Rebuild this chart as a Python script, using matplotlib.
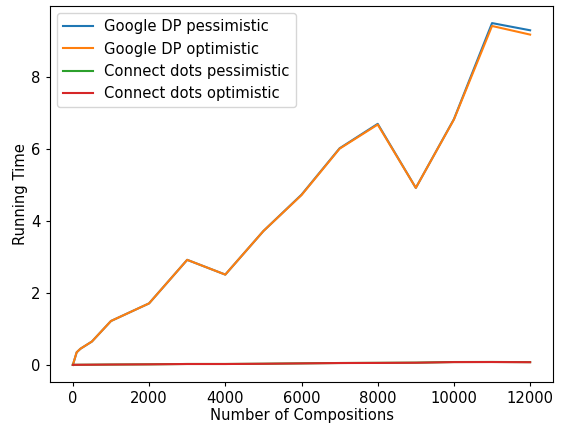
import matplotlib
matplotlib.use("Agg")
import matplotlib.pyplot as plt

compositions = [0, 100, 200, 500, 1000, 2000, 3000, 4000, 5000, 6000, 7000, 8000, 9000, 10000, 11000, 12000]
google_pess = [0.0, 0.35, 0.45, 0.65, 1.22, 1.71, 2.92, 2.51, 3.72, 4.73, 6.02, 6.70, 4.92, 6.83, 9.50, 9.30]
google_opt = [0.0, 0.35, 0.45, 0.65, 1.22, 1.71, 2.92, 2.51, 3.72, 4.72, 6.01, 6.68, 4.92, 6.82, 9.42, 9.18]
dots_pess = [0.002, 0.003, 0.004, 0.006, 0.010, 0.016, 0.026, 0.026, 0.033, 0.043, 0.053, 0.058, 0.063, 0.080, 0.082, 0.077]
dots_opt = [0.002, 0.003, 0.004, 0.006, 0.010, 0.016, 0.025, 0.025, 0.032, 0.042, 0.052, 0.055, 0.061, 0.078, 0.080, 0.075]

plt.rcParams['font.size'] = 10.6
plt.rcParams['xtick.major.size'] = 3.1
plt.rcParams['ytick.major.size'] = 3.1
fig = plt.figure(figsize=(5.61, 4.26), dpi=100)
ax = fig.add_axes([50/561, 1-382/426, 503/561, 376/426])
ax.plot(compositions, google_pess, label="Google DP pessimistic")
ax.plot(compositions, google_opt, label="Google DP optimistic")
ax.plot(compositions, dots_pess, label="Connect dots pessimistic")
ax.plot(compositions, dots_opt, label="Connect dots optimistic")
ax.set_xlabel("Number of Compositions", labelpad=1.5)
ax.set_ylabel("Running Time", labelpad=2.5)
ax.set_xticks([0, 2000, 4000, 6000, 8000, 10000, 12000])
ax.set_yticks([0, 2, 4, 6, 8])
ax.legend(loc="upper left")
fig.savefig("out.png", dpi=100)
